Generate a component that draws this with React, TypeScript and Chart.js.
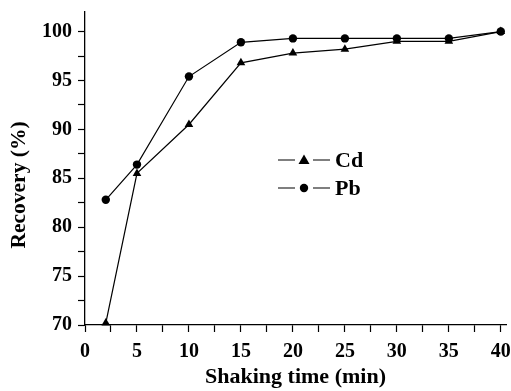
import React, { useEffect, useRef } from 'react';
import { Chart, registerables } from 'chart.js';

Chart.register(...registerables);

const shakingTime = [2, 5, 10, 15, 20, 25, 30, 35, 40];
const cdRecovery = [70.2, 85.5, 90.5, 96.8, 97.8, 98.2, 99.0, 99.0, 100.0];
const pbRecovery = [82.8, 86.4, 95.4, 98.9, 99.3, 99.3, 99.3, 99.3, 100.0];

const xTickValues = [0, 2.5, 5, 7.5, 10, 12.5, 15, 17.5, 20, 22.5, 25, 27.5, 30, 32.5, 35, 37.5, 40];
const yTickValues = [70, 72.5, 75, 77.5, 80, 82.5, 85, 87.5, 90, 92.5, 95, 97.5, 100];

const xTitle = 'Shaking time (min)';
const yTitle = 'Recovery (%)';
const seriesNames = ['Cd', 'Pb'];

const FONT = "'Liberation Serif', 'Times New Roman', serif";

export default function App() {
  const ref = useRef<HTMLCanvasElement | null>(null);

  useEffect(() => {
    if (!ref.current) return;
    const overlay = {
      id: 'overlay',
      afterDraw(chart: any) {
        const ctx = chart.ctx;
        ctx.save();
        ctx.fillStyle = '#000';
        ctx.strokeStyle = '#000';
        // y title
        ctx.font = `bold 21.5px ${FONT}`;
        ctx.textAlign = 'center';
        ctx.textBaseline = 'middle';
        ctx.translate(19, 185);
        ctx.rotate(-Math.PI / 2);
        ctx.fillText(yTitle, 0, 0);
        ctx.restore();

        // legend
        ctx.save();
        ctx.fillStyle = '#000';
        ctx.strokeStyle = '#000';
        ctx.lineWidth = 1.2;
        const ys = [160, 188];
        const styles = ['triangle', 'circle'];
        ys.forEach((y, i) => {
          ctx.beginPath();
          ctx.moveTo(278, y);
          ctx.lineTo(295, y);
          ctx.moveTo(313, y);
          ctx.lineTo(330, y);
          ctx.stroke();
          ctx.beginPath();
          if (styles[i] === 'triangle') {
            ctx.moveTo(304, y - 5.5);
            ctx.lineTo(309.5, y + 4);
            ctx.lineTo(298.5, y + 4);
            ctx.closePath();
          } else {
            ctx.arc(304, y, 4.2, 0, Math.PI * 2);
          }
          ctx.fill();
          ctx.font = `bold 22px ${FONT}`;
          ctx.textAlign = 'left';
          ctx.textBaseline = 'middle';
          ctx.fillText(seriesNames[i], 335, y + 1);
        });
        ctx.restore();
      },
    };

    const chart = new Chart(ref.current, {
      type: 'scatter',
      data: {
        datasets: [
          {
            label: seriesNames[0],
            data: shakingTime.map((x, i) => ({ x, y: cdRecovery[i] })),
            showLine: true,
            borderColor: '#000',
            backgroundColor: '#000',
            borderWidth: 1.2,
            pointStyle: 'triangle',
            pointRadius: 5,
            pointBorderWidth: 0,
            clip: false as any,
          },
          {
            label: seriesNames[1],
            data: shakingTime.map((x, i) => ({ x, y: pbRecovery[i] })),
            showLine: true,
            borderColor: '#000',
            backgroundColor: '#000',
            borderWidth: 1.2,
            pointStyle: 'circle',
            pointRadius: 4.2,
            pointBorderWidth: 0,
            clip: false as any,
          },
        ],
      },
      options: {
        animation: false,
        responsive: true,
        maintainAspectRatio: false,
        layout: { padding: { top: 12, right: 0, left: 0, bottom: 0 } },
        plugins: { legend: { display: false }, tooltip: { enabled: false } },
        scales: {
          x: {
            type: 'linear',
            min: 0,
            max: 40.5,
            afterBuildTicks: (scale: any) => {
              scale.ticks = xTickValues.map((v) => ({ value: v }));
            },
            afterFit: (scale: any) => {
              scale.height = 66;
              scale.paddingLeft = 0;
              scale.paddingRight = 0;
            },
            ticks: {
              color: '#000',
              font: { family: FONT, size: 20, weight: 'bold' },
              padding: 8,
              maxRotation: 0,
              autoSkip: false,
              callback: (v: any) => (Number(v) % 5 === 0 ? String(v) : ''),
            },
            grid: {
              drawOnChartArea: false,
              drawTicks: true,
              tickLength: 7,
              tickColor: '#000',
              tickWidth: 1.2,
            },
            border: { color: '#000', width: 1.3 },
            title: {
              display: true,
              text: xTitle,
              color: '#000',
              font: { family: FONT, size: 22, weight: 'bold' },
              padding: { top: 0, bottom: 0 },
            },
          },
          y: {
            type: 'linear',
            min: 70,
            max: 102,
            afterBuildTicks: (scale: any) => {
              scale.ticks = yTickValues.map((v) => ({ value: v }));
            },
            afterFit: (scale: any) => {
              scale.width = 85;
              scale.paddingTop = 0;
              scale.paddingBottom = 0;
            },
            ticks: {
              color: '#000',
              font: { family: FONT, size: 20, weight: 'bold' },
              padding: 6,
              autoSkip: false,
              callback: (v: any) => (Number(v) % 5 === 0 ? String(v) : ''),
            },
            grid: {
              drawOnChartArea: false,
              drawTicks: true,
              tickLength: 7,
              tickColor: '#000',
              tickWidth: 1.2,
            },
            border: { color: '#000', width: 1.3 },
          },
        },
      },
      plugins: [overlay],
    });
    return () => chart.destroy();
  }, []);

  return (
    <div style={{ position: 'fixed', left: 0, top: 0, width: 511, height: 391, background: '#fff' }}>
      <canvas ref={ref} />
    </div>
  );
}
